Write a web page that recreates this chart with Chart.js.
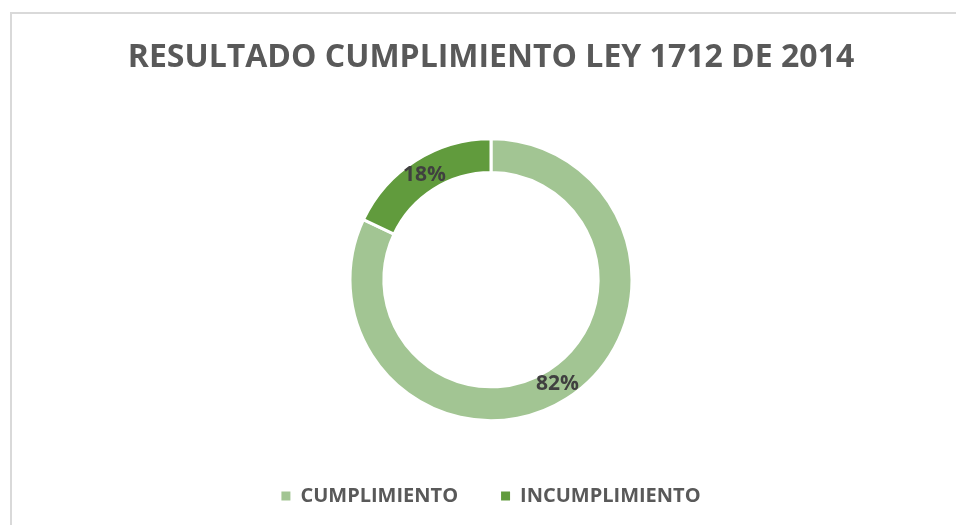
<!DOCTYPE html>
<html>
<head>
<meta charset="utf-8">
<script src="https://cdn.jsdelivr.net/npm/chart.js@4"></script>
<style>
    html, body { margin: 0; padding: 0; background: #fff; }
    #frame {
        position: absolute; left: 10px; top: 12px;
        width: 960px; height: 530px;
        border-top: 2px solid #d9d9d9; border-left: 2px solid #d9d9d9;
    }
    #wrap { position: absolute; left: 0; top: 0; width: 956px; height: 525px; }
</style>
</head>
<body>
<div id="frame"></div>
<div id="wrap"><canvas id="doughnutchart"></canvas></div>
<script>
const categories = ["CUMPLIMIENTO", "INCUMPLIMIENTO"];
const values = [82, 18];
const sliceColors = ["#A2C593", "#619B3D"];
const chartTitle = "RESULTADO CUMPLIMIENTO LEY 1712 DE 2014";

const fontFamily = "'Open Sans', sans-serif";

// percentage labels in the middle of each ring slice
const sliceLabels = {
    id: 'sliceLabels',
    afterDatasetsDraw(chart) {
        const ctx = chart.ctx;
        const meta = chart.getDatasetMeta(0);
        const total = values.reduce((a, b) => a + b, 0);
        ctx.save();
        ctx.font = "bold 21px " + fontFamily;
        ctx.fillStyle = "#404040";
        ctx.textAlign = "center";
        ctx.textBaseline = "middle";
        meta.data.forEach(function (arc, i) {
            const p = arc.getCenterPoint();
            ctx.fillText(Math.round(values[i] / total * 100) + "%", p.x, p.y);
        });
        ctx.restore();
    }
};

new Chart("doughnutchart", {
    type: 'doughnut',
    data: {
        labels: categories,
        datasets: [{
            data: values,
            backgroundColor: sliceColors,
            borderColor: "#ffffff",
            borderWidth: 3
        }]
    },
    options: {
        responsive: true,
        maintainAspectRatio: false,
        animation: false,
        events: [],
        radius: 141,
        cutout: '76%',
        layout: { padding: { left: 26, right: 0, top: 0, bottom: 9 } },
        plugins: {
            title: {
                display: true,
                text: chartTitle,
                color: "#595959",
                font: { family: fontFamily, size: 32, weight: 'bold' },
                padding: { top: 39, bottom: 39 }
            },
            legend: {
                position: 'bottom',
                labels: {
                    color: "#595959",
                    font: { family: fontFamily, size: 20, weight: 'bold' },
                    boxWidth: 9,
                    boxHeight: 9,
                    padding: 43,
                    generateLabels: function (chart) {
                        const items = Chart.overrides.doughnut.plugins.legend.labels.generateLabels(chart);
                        items.forEach(function (it) { it.lineWidth = 0; });
                        return items;
                    }
                }
            },
            tooltip: { enabled: false }
        }
    },
    plugins: [sliceLabels]
});
</script>
</body>
</html>
